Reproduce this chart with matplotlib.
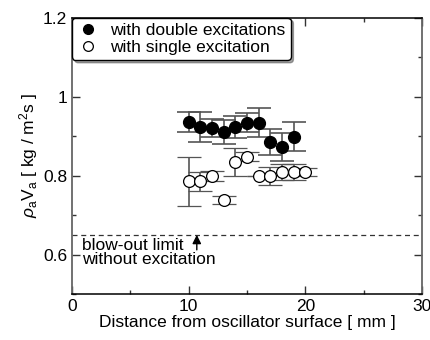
import matplotlib
matplotlib.use("Agg")
import matplotlib.pyplot as plt
from matplotlib.ticker import MultipleLocator
from matplotlib.lines import Line2D

plt.rcParams['font.family'] = ['Liberation Sans', 'DejaVu Sans']
plt.rcParams['mathtext.fontset'] = 'custom'
plt.rcParams['mathtext.rm'] = 'Liberation Sans'
plt.rcParams['mathtext.it'] = 'Liberation Sans:italic'

# data
dist_double = [10, 11, 12, 13, 14, 15, 16, 17, 18, 19]
val_double = [0.936, 0.923, 0.921, 0.911, 0.923, 0.934, 0.934, 0.885, 0.873, 0.898]
err_double = [0.025, 0.037, 0.023, 0.030, 0.028, 0.024, 0.037, 0.033, 0.035, 0.037]

dist_single = [10, 11, 12, 13, 14, 15, 16, 17, 18, 19, 20]
val_single = [0.785, 0.785, 0.799, 0.738, 0.835, 0.848, 0.799, 0.799, 0.810, 0.810, 0.810]
err_single = [0.062, 0.024, 0.012, 0.010, 0.036, 0.012, 0.0, 0.023, 0.020, 0.020, 0.010]

blowout_limit = 0.65
labels = ['with double excitations', 'with single excitation']

fig = plt.figure(figsize=(4.31, 3.40), dpi=100)
ax = fig.add_axes([0.167, 0.135, 0.812, 0.8135])

ax.axhline(blowout_limit, color='#333333', lw=0.9, ls=(0, (4, 3)), zorder=1)

ax.errorbar(dist_double, val_double, yerr=err_double, fmt='o', ms=8.5,
            mfc='black', mec='black', ecolor='#555555', elinewidth=1.2,
            capsize=8.5, capthick=1.2, zorder=3)
ax.errorbar(dist_single, val_single, yerr=err_single, fmt='o', ms=8.5,
            mfc='white', mec='black', mew=0.9, ecolor='#555555', elinewidth=1.2,
            capsize=8.5, capthick=1.2, zorder=3)

ax.annotate('', xy=(10.7, blowout_limit), xytext=(10.7, 0.612),
            arrowprops=dict(arrowstyle='-|>', color='black', lw=1.0,
                            mutation_scale=13, shrinkA=0, shrinkB=0))
ax.text(0.9, 0.642, 'blow-out limit\nwithout excitation', fontsize=12.5,
        va='top', ha='left', linespacing=0.9)

ax.set_xlim(0, 30)
ax.set_ylim(0.5, 1.2)
ax.xaxis.set_major_locator(MultipleLocator(10))
ax.xaxis.set_minor_locator(MultipleLocator(5))
ax.yaxis.set_minor_locator(MultipleLocator(0.1))
ax.set_yticks([0.6, 0.8, 1.0, 1.2])
ax.set_yticklabels(['0.6', '0.8', '1', '1.2'])
ax.tick_params(which='both', direction='in', top=True, right=True, labelsize=12.5,
               color='#333333')
ax.tick_params(which='major', length=6, width=1)
ax.tick_params(which='minor', length=3, width=1)

for s in ['left', 'right']:
    ax.spines[s].set_color('#666666')
    ax.spines[s].set_linewidth(1.3)
for s in ['top', 'bottom']:
    ax.spines[s].set_color('black')
    ax.spines[s].set_linewidth(1.1)

ax.set_xlabel('Distance from oscillator surface [ mm ]', fontsize=12.5, labelpad=1)
ax.set_ylabel(r'$\mathit{\rho}_{\rm a}$V$_{\rm a}$ [ kg / m$^{2}$s ]', fontsize=12.5, labelpad=2)

handles = [Line2D([], [], ls='none', marker='o', ms=7, mfc='black', mec='black'),
           Line2D([], [], ls='none', marker='o', ms=7, mfc='white', mec='black', mew=0.9)]
leg = ax.legend(handles, labels, loc='upper left', bbox_to_anchor=(0, 1), borderaxespad=0,
                fontsize=12.5, frameon=True, fancybox=True, shadow=True,
                handletextpad=0.6, borderpad=0.3, labelspacing=0.1,
                handlelength=1.3, numpoints=1)
leg.get_frame().set_edgecolor('black')
leg.get_frame().set_linewidth(1.0)
leg.get_frame().set_alpha(1)

fig.savefig('out.png', dpi=100)
